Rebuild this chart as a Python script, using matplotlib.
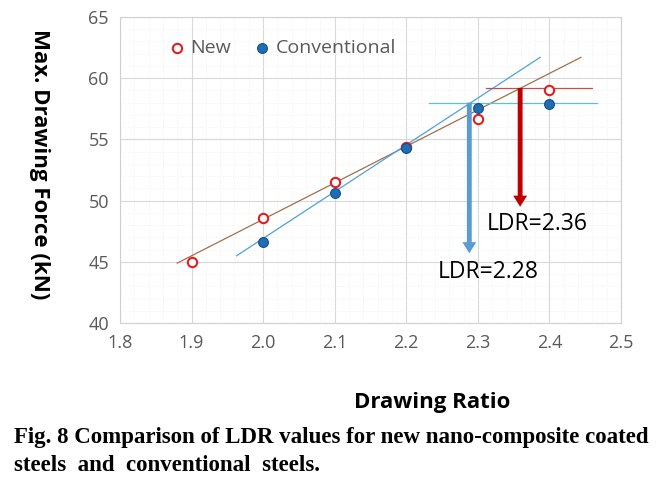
import matplotlib.pyplot as plt
from matplotlib.ticker import MultipleLocator

# measured data
ratio_new = [1.9, 2.0, 2.1, 2.2, 2.3, 2.4]
force_new = [45.0, 48.6, 51.5, 54.4, 56.7, 59.0]
ratio_conv = [2.0, 2.1, 2.2, 2.3, 2.4]
force_conv = [46.6, 50.6, 54.3, 57.6, 57.9]

# trend lines (end points)
trend_new_x = [1.88, 2.444]
trend_new_y = [44.9, 61.7]
trend_conv_x = [1.963, 2.387]
trend_conv_y = [45.5, 61.7]

# limit lines and LDR arrows
limit_conv = 58.0
limit_conv_x = [2.232, 2.466]
limit_new = 59.2
limit_new_x = [2.311, 2.46]
ldr_conv = 2.288
ldr_conv_tip = 45.7
ldr_new = 2.359
ldr_new_tip = 49.5

fig = plt.figure(figsize=(6.7, 4.83), dpi=100)
ax = fig.add_axes([0.179, 0.331, 0.748, 0.634])
ax.set_xlim(1.8, 2.5)
ax.set_ylim(40, 65)
ax.xaxis.set_major_locator(MultipleLocator(0.1))
ax.yaxis.set_major_locator(MultipleLocator(5))
ax.xaxis.set_minor_locator(MultipleLocator(0.02))
ax.yaxis.set_minor_locator(MultipleLocator(1))
ax.grid(True, which='major', color='#d9d9d9', lw=0.8)
ax.grid(True, which='minor', color='#ececec', lw=0.6, ls=(0, (1, 2)))
ax.set_axisbelow(True)
for s in ax.spines.values():
    s.set_color('#d0d0d0')
ax.tick_params(which='both', length=0, labelsize=13, labelcolor='#595959', pad=8)
ax.set_xticklabels(['%.1f' % v for v in ax.get_xticks()], family='Open Sans')
ax.set_yticklabels(['%d' % v for v in ax.get_yticks()], family='Open Sans')

ax.plot(trend_new_x, trend_new_y, color='#a0704a', lw=0.9)
ax.plot(trend_conv_x, trend_conv_y, color='#4aa3d8', lw=0.9)
ax.plot(limit_conv_x, [limit_conv, limit_conv], color='#5bc0de', lw=0.9)
ax.plot(limit_new_x, [limit_new, limit_new], color='#c0504d', lw=0.9)

ax.scatter(ratio_new, force_new, s=45, facecolor='white', edgecolor='#e02020', lw=1.5,
           zorder=4, label='New')
ax.scatter(ratio_conv, force_conv, s=50, facecolor='#1f6db3', edgecolor='#0f4f8f', lw=0.8,
           zorder=4, label='Conventional')

ax.annotate('', xy=(ldr_conv, ldr_conv_tip), xytext=(ldr_conv, limit_conv),
            arrowprops=dict(arrowstyle='simple,head_width=1.0,head_length=0.8,tail_width=0.35',
                            color='#5b9bd5', lw=0, shrinkA=0, shrinkB=0), zorder=3)
ax.annotate('', xy=(ldr_new, ldr_new_tip), xytext=(ldr_new, limit_new),
            arrowprops=dict(arrowstyle='simple,head_width=1.0,head_length=0.8,tail_width=0.35',
                            color='#c00000', lw=0, shrinkA=0, shrinkB=0), zorder=3)
ax.text(2.313, 48.1, 'LDR=%.2f' % 2.36, fontsize=16.5, family='Open Sans', va='center')
ax.text(2.244, 44.2, 'LDR=%.2f' % 2.28, fontsize=16.5, family='Open Sans', va='center')

leg = ax.legend(loc='upper left', bbox_to_anchor=(0.055, 0.985), ncol=2, frameon=False,
                handletextpad=0.1, columnspacing=1.0, markerscale=1.0, handlelength=1.2,
                prop={'family': 'Open Sans', 'size': 14})
for t in leg.get_texts():
    t.set_color('#595959')

ax.set_ylabel('Max. Drawing Force (kN)', fontsize=16, fontweight='bold', family='Open Sans',
              rotation=270, va='center')
ax.yaxis.set_label_coords(-0.16, 0.52)
ax.set_xlabel('Drawing Ratio', fontsize=16, fontweight='bold', family='Open Sans')
ax.xaxis.set_label_coords(0.623, -0.225)

fig.text(0.021, 0.095, 'Fig. 8 Comparison of LDR values for new nano-composite coated',
         fontsize=16.5, fontweight='bold', family='Liberation Serif', va='center')
fig.text(0.021, 0.037, 'steels  and  conventional  steels.',
         fontsize=16.5, fontweight='bold', family='Liberation Serif', va='center')

fig.savefig('out.png', dpi=100)
